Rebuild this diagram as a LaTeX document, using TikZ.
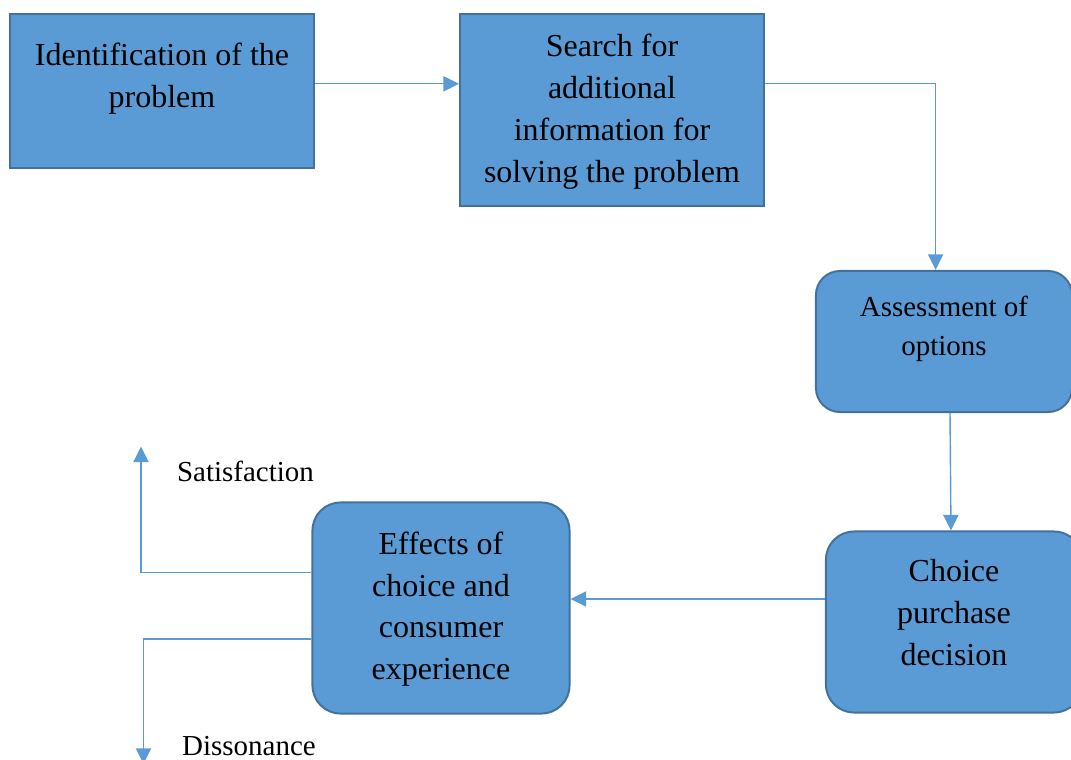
\documentclass[tikz,border=0pt]{standalone}
\usepackage{fontspec}
\setmainfont{Liberation Serif}
\usetikzlibrary{arrows.meta}

\definecolor{flowfill}{HTML}{5B9BD5}
\definecolor{flowedge}{HTML}{41719C}

\tikzset{
	flowpicture/.style = {
		x = 0.025cm,
		y = -0.025cm,
		flow-arrow/.style = {
			draw = flowfill,
			line width = 1pt,
			-{Triangle[length=0.39cm, width=0.38cm]},
		}
	},
	flownode/.style = {
		draw = flowedge,
		fill = flowfill,
		line width = 1.4pt,
		align = flush center,
		inner sep = 0pt,
		text height = 0pt,
		font = \fontsize{22.76pt}{29.8pt}\selectfont
	},
	flowround/.style = {
		flownode,
		rounded corners = 0.7cm
	},
	flowlabel/.style = {
		anchor = base,
		font = \fontsize{20.6pt}{28pt}\selectfont
	}
}

\begin{document}
\begin{tikzpicture}[flowpicture]
	\useasboundingbox (0,0) rectangle (1071,760);

	\node[flownode, minimum width = 7.6cm, minimum height = 3.85cm, text width = 7cm, text depth = 1.25cm] (ident) at (162,91) {Identification of the\\problem};
	\node[flownode, minimum width = 7.6cm, minimum height = 4.8cm, text width = 7cm, text depth = 2.675cm] (search) at (612,110) {Search for\\additional\\information for\\solving the problem};

	\node[flowround, rounded corners = 0.6cm, minimum width = 6.4cm, minimum height = 3.525cm, text width = 5.8cm, text depth = 1.245cm, font = \fontsize{20.6pt}{28pt}\selectfont] (assess) at (944,341.5) {Assessment of\\options};
	\node[flowround, minimum width = 6.4cm, minimum height = 4.525cm, text width = 5.8cm, text depth = 2cm] (choice) at (954,622) {Choice\\purchase\\decision};
	\node[flowround, minimum width = 6.425cm, minimum height = 5.275cm, text width = 5.8cm, text depth = 2.69cm] (effects) at (441,608) {Effects of\\choice and\\consumer\\experience};

	\node[flowlabel] (satlabel) at (245.5,481.7) {Satisfaction};
	\node[flowlabel] (dislabel) at (249,755) {Dissonance};

	\coordinate (sat) at (141,446.5);
	\coordinate (dis) at (143.5,764);

	\begin{scope}[every path/.style = flow-arrow]
		\path ([yshift=0.18cm]ident.east) -- ([yshift=0.18cm]ident.east -| search.west);
		\path ([yshift=0.66cm]search.east) -| ([xshift=-0.21cm]assess.north);
		\path ([xshift=0.15cm]assess.south) -- ([xshift=-0.075cm]choice.north);
		\path ([yshift=0.575cm]choice.west) -- ([yshift=0.575cm]choice.west -| effects.east);

		\path ([yshift=0.89cm]effects.west) -| (sat);
		\path ([yshift=-0.775cm]effects.west) -| (dis);
	\end{scope}
\end{tikzpicture}
\end{document}
